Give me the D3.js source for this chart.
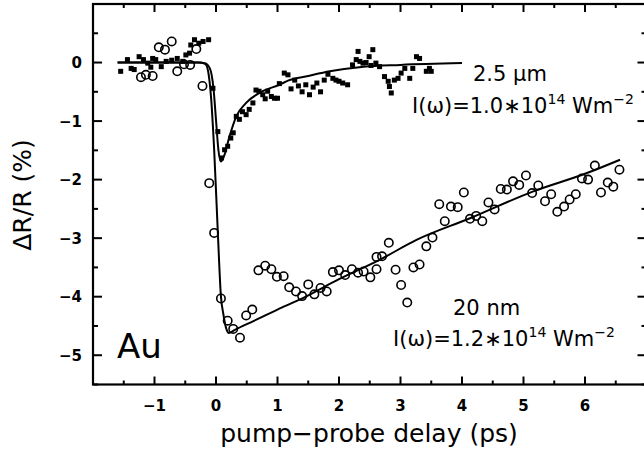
<!doctype html>
<meta charset='utf-8' />
<script src='https://cdn.jsdelivr.net/npm/d3@7'></script>
<style>
  body { margin: 0; background: #fff; }
  text { font-family: 'DejaVu Sans', sans-serif; fill: #000; }
</style>
<svg></svg>
<script>
    var width = 644,
        height = 455

    // 2.5 um film (filled squares): [delay ps, dR/R %]
    var thickData = [
        [-1.55, -0.15], [-1.44, 0.05], [-1.38, -0.1], [-1.33, -0.12], [-1.25, 0.1], [-1.18, 0.05],
        [-1.11, -0.01], [-1.06, -0.08], [-1.03, 0.07], [-0.98, 0.05], [-0.89, -0.07], [-0.81, 0.02],
        [-0.72, 0.04], [-0.63, 0.07], [-0.54, 0.02], [-0.49, 0.13], [-0.43, 0.16], [-0.41, 0.3],
        [-0.35, 0.39], [-0.28, 0.33], [-0.21, 0.36], [-0.12, 0.39], [-0.05, -0.44], [0.03, -1.18],
        [0.09, -1.63], [0.14, -1.49], [0.19, -1.43], [0.24, -1.29], [0.28, -1.2], [0.33, -0.92],
        [0.38, -0.97], [0.43, -0.84], [0.49, -0.89], [0.54, -0.8], [0.6, -0.69], [0.65, -0.47],
        [0.7, -0.49], [0.76, -0.55], [0.8, -0.62], [0.84, -0.49], [0.9, -0.58], [0.95, -0.61],
        [1.0, -0.61], [1.03, -0.36], [1.11, -0.18], [1.17, -0.21], [1.22, -0.45], [1.28, -0.3],
        [1.34, -0.4], [1.4, -0.5], [1.46, -0.38], [1.52, -0.55], [1.58, -0.42], [1.64, -0.35],
        [1.7, -0.5], [1.76, -0.3], [1.82, -0.2], [1.9, -0.27], [1.95, -0.3], [2.0, -0.32],
        [2.06, -0.35], [2.14, -0.38], [2.22, -0.04], [2.28, 0.05], [2.31, 0.19], [2.34, 0.02],
        [2.39, -0.01], [2.44, 0.0], [2.49, 0.1], [2.52, -0.05], [2.55, 0.22], [2.6, -0.01],
        [2.66, -0.07], [2.74, -0.24], [2.8, -0.32], [2.82, -0.41], [2.85, -0.52], [2.9, -0.3],
        [2.96, -0.27], [3.01, -0.18], [3.07, -0.1], [3.15, -0.27], [3.2, -0.1], [3.26, 0.1],
        [3.31, 0.07], [3.42, -0.15], [3.47, -0.1], [3.5, -0.15]
    ]

    // 20 nm film (open circles)
    var thinData = [
        [-1.22, -0.25], [-1.14, -0.21], [-1.03, -0.23], [-0.93, 0.26], [-0.83, 0.22], [-0.72, 0.36],
        [-0.63, -0.15], [-0.52, -0.03], [-0.42, -0.04], [-0.32, 0.23], [-0.22, -0.4], [-0.11, -2.06],
        [-0.03, -2.91], [0.08, -4.03], [0.19, -4.41], [0.28, -4.55], [0.39, -4.7], [0.49, -4.32],
        [0.59, -4.22], [0.69, -3.55], [0.8, -3.47], [0.9, -3.53], [0.99, -3.66], [1.1, -3.65],
        [1.19, -3.84], [1.3, -3.91], [1.4, -3.99], [1.5, -3.79], [1.6, -3.96], [1.7, -3.85],
        [1.8, -3.91], [1.9, -3.58], [2.0, -3.55], [2.1, -3.63], [2.21, -3.53], [2.31, -3.59],
        [2.4, -3.57], [2.51, -3.67], [2.61, -3.53], [2.61, -3.32], [2.7, -3.31], [2.81, -3.08],
        [2.92, -3.54], [3.01, -3.8], [3.11, -4.1], [3.21, -3.5], [3.31, -3.45], [3.42, -3.14],
        [3.52, -2.99], [3.63, -2.42], [3.72, -2.71], [3.82, -2.46], [3.93, -2.47], [4.03, -2.22],
        [4.13, -2.67], [4.23, -2.62], [4.33, -2.71], [4.43, -2.39], [4.53, -2.51], [4.63, -2.16],
        [4.73, -2.17], [4.83, -2.03], [4.93, -2.09], [5.04, -1.93], [5.14, -2.23], [5.24, -2.1],
        [5.35, -2.37], [5.45, -2.25], [5.55, -2.55], [5.66, -2.46], [5.75, -2.34], [5.85, -2.25],
        [5.95, -1.98], [6.05, -2.0], [6.16, -1.76], [6.26, -2.22], [6.37, -2.05], [6.46, -2.12],
        [6.56, -1.83]
    ]

    // fitted curves
    var thickFit = [
        [-1.6, 0], [-0.3, 0], [-0.18, -0.01], [-0.1, -0.1], [-0.04, -0.45], [0.0, -0.98],
        [0.04, -1.5], [0.08, -1.69], [0.13, -1.6], [0.22, -1.26], [0.33, -0.92], [0.49, -0.69],
        [0.76, -0.49], [1.03, -0.38], [1.17, -0.31], [1.5, -0.23], [1.85, -0.15], [2.4, -0.07],
        [3.0, -0.04], [4.0, -0.01]
    ]
    var thinFit = [
        [-1.6, 0], [-0.25, 0], [-0.17, -0.03], [-0.12, -0.2], [-0.08, -0.6], [-0.03, -1.49],
        [0.03, -2.91], [0.08, -3.99], [0.12, -4.3], [0.16, -4.52], [0.21, -4.62], [0.3, -4.57],
        [0.6, -4.42], [1.0, -4.22], [1.36, -4.05], [2.0, -3.7], [2.66, -3.37], [3.26, -3.03],
        [4.13, -2.66], [5.16, -2.2], [6.0, -1.9], [6.57, -1.66]
    ]

    var xTicks = [-1, 0, 1, 2, 3, 4, 5, 6]
    var yTicks = [0, -1, -2, -3, -4, -5]

    var svg = d3.select('svg')
        .attr('width', width)
        .attr('height', height)

    var x = d3.scaleLinear().domain([-2, 7]).range([93, 646.5])
    var y = d3.scaleLinear().domain([-5.5, 1]).range([384.5, 4])

    var majorX = d3.range(-2, 7.01, 1), minorX = d3.range(-1.5, 7, 1)
    var majorY = d3.range(-5, 1.01, 1), minorY = d3.range(-5.5, 1, 1)

    // frame
    svg.append('rect')
        .attr('x', x(-2)).attr('y', y(1))
        .attr('width', x(7) - x(-2)).attr('height', y(-5.5) - y(1))
        .attr('fill', 'none').attr('stroke', '#000').attr('stroke-width', 2.2)

    // inward ticks on all four sides
    function ticks(vals, len) {
        vals.forEach(function (v) {
            svg.append('line').attr('x1', x(v)).attr('x2', x(v))
                .attr('y1', y(-5.5)).attr('y2', y(-5.5) - len)
                .attr('stroke', '#000').attr('stroke-width', 2)
            svg.append('line').attr('x1', x(v)).attr('x2', x(v))
                .attr('y1', y(1)).attr('y2', y(1) + len)
                .attr('stroke', '#000').attr('stroke-width', 2)
        })
    }
    function yticks(vals, len) {
        vals.forEach(function (v) {
            svg.append('line').attr('y1', y(v)).attr('y2', y(v))
                .attr('x1', x(-2)).attr('x2', x(-2) + len)
                .attr('stroke', '#000').attr('stroke-width', 2)
            svg.append('line').attr('y1', y(v)).attr('y2', y(v))
                .attr('x1', x(7)).attr('x2', x(7) - len)
                .attr('stroke', '#000').attr('stroke-width', 2)
        })
    }
    ticks(majorX, 8); ticks(minorX, 4)
    yticks(majorY, 9); yticks(minorY, 5)

    svg.selectAll('.xl').data(xTicks).enter().append('text')
        .attr('x', d => x(d)).attr('y', 411)
        .attr('text-anchor', 'middle')
        .attr('font-size', 15).attr('font-weight', 'bold')
        .text(d => d < 0 ? '\u2212' + Math.abs(d) : d)

    svg.selectAll('.yl').data(yTicks).enter().append('text')
        .attr('x', 82).attr('y', d => y(d) + 5.5)
        .attr('text-anchor', 'end')
        .attr('font-size', 15).attr('font-weight', 'bold')
        .text(d => d < 0 ? '\u2212' + Math.abs(d) : d)

    svg.append('text')
        .attr('x', 369).attr('y', 442)
        .attr('text-anchor', 'middle')
        .attr('font-size', 25)
        .text('pump\u2212probe delay (ps)')

    svg.append('text')
        .attr('transform', 'translate(31,195) rotate(-90)')
        .attr('text-anchor', 'middle')
        .attr('font-size', 25)
        .text('\u0394R/R (%)')

    var line = d3.line().x(d => x(d[0])).y(d => y(d[1])).curve(d3.curveMonotoneX)

    svg.append('path').datum(thickFit).attr('d', line)
        .attr('fill', 'none').attr('stroke', '#000').attr('stroke-width', 2)
    svg.append('path').datum(thinFit).attr('d', line)
        .attr('fill', 'none').attr('stroke', '#000').attr('stroke-width', 2)

    svg.selectAll('.sq').data(thickData).enter().append('rect')
        .attr('x', d => x(d[0]) - 2.5).attr('y', d => y(d[1]) - 2.5)
        .attr('width', 5).attr('height', 5)
        .attr('fill', '#000')

    svg.selectAll('.ci').data(thinData).enter().append('circle')
        .attr('cx', d => x(d[0])).attr('cy', d => y(d[1]))
        .attr('r', 4.2)
        .attr('fill', 'none').attr('stroke', '#000').attr('stroke-width', 1.6)

    // annotations
    svg.append('text').attr('x', 117).attr('y', 358).attr('font-size', 34).text('Au')

    svg.append('text').attr('x', 473).attr('y', 81).attr('font-size', 21).text('2.5 \u03bcm')
    function intensity(xp, yp, val) {
        var t = svg.append('text').attr('x', xp).attr('y', yp).attr('font-size', 21)
        t.append('tspan').text('I(\u03c9)=' + val + '\u221710')
        t.append('tspan').attr('dy', -9).attr('font-size', 14).text('14')
        t.append('tspan').attr('dy', 9).text(' Wm')
        t.append('tspan').attr('dy', -9).attr('font-size', 14).text('\u22122')
    }
    intensity(412, 113, '1.0')
    svg.append('text').attr('x', 453).attr('y', 315).attr('font-size', 21).text('20 nm')
    intensity(393, 346, '1.2')
</script>
